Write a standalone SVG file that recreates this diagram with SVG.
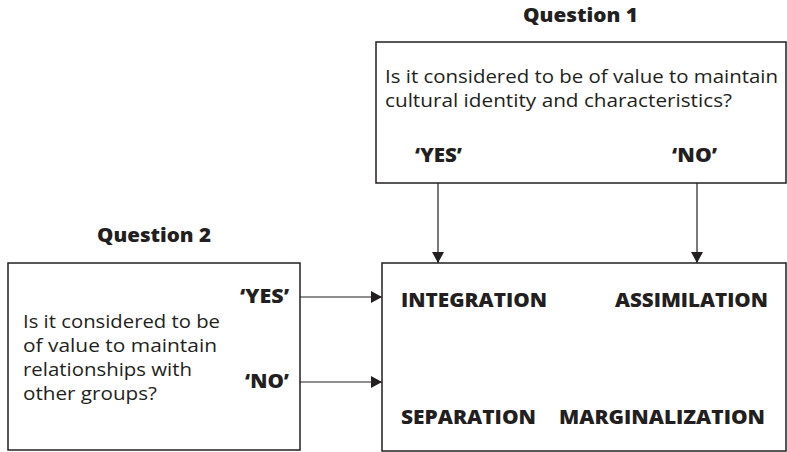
<svg xmlns="http://www.w3.org/2000/svg" width="787" height="452" viewBox="0 0 787 452">
<style>
.box{fill:#fff;stroke:#231f20;stroke-width:1.5}
.t{font-family:"Open Sans",sans-serif;font-size:19px;fill:#231f20}
.b{font-family:"Open Sans",sans-serif;font-size:19px;font-weight:800;fill:#231f20}
.c{stroke:#231f20;stroke-width:1.2;fill:none}
</style>
<defs>
<marker id="ah" markerWidth="11" markerHeight="12" refX="11" refY="6" orient="auto" markerUnits="userSpaceOnUse">
<path d="M0,0 L11,6 L0,12 Z" fill="#231f20"/>
</marker>
</defs>
<g id="q1">
<text class="b" x="523" y="22" textLength="115" lengthAdjust="spacingAndGlyphs">Question 1</text>
<rect class="box" x="376" y="42" width="410" height="141"/>
<text class="t" x="385" y="83" textLength="393" lengthAdjust="spacingAndGlyphs">Is it considered to be of value to maintain</text>
<text class="t" x="385" y="107" textLength="347" lengthAdjust="spacingAndGlyphs">cultural identity and characteristics?</text>
<text class="b" x="415" y="162" textLength="47" lengthAdjust="spacingAndGlyphs">‘YES’</text>
<text class="b" x="672" y="162" textLength="45" lengthAdjust="spacingAndGlyphs">‘NO’</text>
</g>
<g id="q2">
<text class="b" x="97" y="242" textLength="114" lengthAdjust="spacingAndGlyphs">Question 2</text>
<rect class="box" x="8" y="263" width="292" height="187"/>
<text class="t" x="23" y="328" textLength="197" lengthAdjust="spacingAndGlyphs">Is it considered to be</text>
<text class="t" x="23" y="352" textLength="194" lengthAdjust="spacingAndGlyphs">of value to maintain</text>
<text class="t" x="23" y="376" textLength="169" lengthAdjust="spacingAndGlyphs">relationships with</text>
<text class="t" x="23" y="400" textLength="134" lengthAdjust="spacingAndGlyphs">other groups?</text>
<text class="b" x="240" y="303" textLength="49" lengthAdjust="spacingAndGlyphs">‘YES’</text>
<text class="b" x="245" y="388" textLength="44" lengthAdjust="spacingAndGlyphs">‘NO’</text>
</g>
<g id="outcomes">
<rect class="box" x="382" y="263" width="404" height="188"/>
<text class="b" x="401" y="307" textLength="146" lengthAdjust="spacingAndGlyphs">INTEGRATION</text>
<text class="b" x="615" y="307" textLength="153" lengthAdjust="spacingAndGlyphs">ASSIMILATION</text>
<text class="b" x="401" y="424" textLength="135" lengthAdjust="spacingAndGlyphs">SEPARATION</text>
<text class="b" x="559" y="424" textLength="206" lengthAdjust="spacingAndGlyphs">MARGINALIZATION</text>
</g>
<g id="connectors">
<line class="c" x1="438" y1="183" x2="438" y2="263" marker-end="url(#ah)"/>
<line class="c" x1="697" y1="183" x2="697" y2="263" marker-end="url(#ah)"/>
<line class="c" x1="300" y1="297" x2="382" y2="297" marker-end="url(#ah)"/>
<line class="c" x1="300" y1="382" x2="382" y2="382" marker-end="url(#ah)"/>
</g>
</svg>
